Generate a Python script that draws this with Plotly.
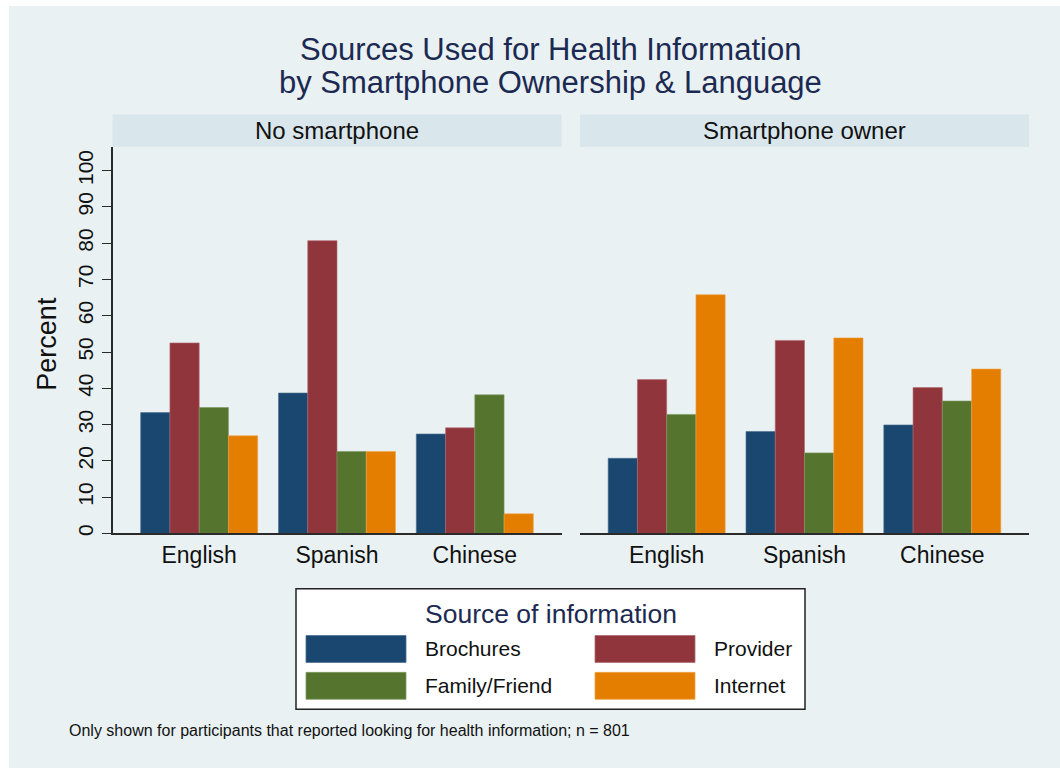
import plotly.graph_objects as go

# ---------------- data ----------------
languages = ["English", "Spanish", "Chinese"]
sources = ["Brochures", "Provider", "Family/Friend", "Internet"]
panels = ["No smartphone", "Smartphone owner"]

no_sp_brochures = [33.3, 38.7, 27.4]
no_sp_provider = [52.5, 80.7, 29.1]
no_sp_family = [34.7, 22.6, 38.2]
no_sp_internet = [26.9, 22.6, 5.4]

sp_brochures = [20.7, 28.1, 29.9]
sp_provider = [42.4, 53.2, 40.2]
sp_family = [32.8, 22.2, 36.5]
sp_internet = [65.8, 53.9, 45.3]

y_ticks = [0, 10, 20, 30, 40, 50, 60, 70, 80, 90, 100]

colors = ["#1a476f", "#90353b", "#55752f", "#e37e00"]
edge_colors = ["#4a6f90", "#b06a6f", "#7f9960", "#f0a54a"]

title_lines = ["Sources Used for Health Information", "by Smartphone Ownership & Language"]
legend_title = "Source of information"
note = "Only shown for participants that reported looking for health information; n = 801"

# ---------------- layout helpers ----------------
W, H = 1060, 771
FONT = "Liberation Sans, Arial, Helvetica, sans-serif"
NAVY = "#1c2a52"
BG = "#e9f1f3"
STRIP = "#d9e6eb"


def px(x):
    return x / W


def py(y):
    return 1 - y / H


fig = go.Figure()

panel_series = [
    [no_sp_brochures, no_sp_provider, no_sp_family, no_sp_internet],
    [sp_brochures, sp_provider, sp_family, sp_internet],
]
axis_ids = [("x", "y"), ("x2", "y2")]

for p, series in enumerate(panel_series):
    xa, ya = axis_ids[p]
    for i, vals in enumerate(series):
        fig.add_trace(go.Bar(
            x=languages, y=vals, name=sources[i],
            marker=dict(color=colors[i], line=dict(color=edge_colors[i], width=0.6)),
            offsetgroup=str(i), xaxis=xa, yaxis=ya, showlegend=False,
        ))

plot_top, plot_bot = 148, 535.5
left_x = (112.5, 561.5)
right_x = (580, 1029)
y_range = [0, 106.4]
cat_range = [-0.629, 2.629]

xaxis_common = dict(
    type="category", range=cat_range, showline=True, linecolor="#2a2a2a", linewidth=1.5,
    ticks="", showgrid=False, zeroline=False,
    tickfont=dict(family=FONT, size=23, color="#111"),
)
fig.update_layout(
    xaxis=dict(domain=[px(left_x[0]), px(left_x[1])], anchor="y", **xaxis_common),
    xaxis2=dict(domain=[px(right_x[0]), px(right_x[1])], anchor="y2", **xaxis_common),
    yaxis=dict(
        domain=[py(plot_bot), py(plot_top)], range=y_range, anchor="x",
        tickvals=y_ticks, ticks="outside", ticklen=9, tickwidth=1.3, tickcolor="#2a2a2a",
        tickangle=-90, tickfont=dict(family=FONT, size=21, color="#111"),
        showline=True, linecolor="#2a2a2a", linewidth=1.5,
        showgrid=True, gridcolor=BG, gridwidth=1.5, zeroline=False,
    ),
    yaxis2=dict(
        domain=[py(plot_bot), py(plot_top)], range=y_range, anchor="x2", matches="y",
        tickvals=y_ticks, showticklabels=False, ticks="", showline=False,
        showgrid=True, gridcolor=BG, gridwidth=1.5, zeroline=False,
    ),
    barmode="group", bargap=0.151, bargroupgap=0,
    width=W, height=H, margin=dict(l=0, r=0, t=0, b=0),
    paper_bgcolor="white", plot_bgcolor="white",
    font=dict(family=FONT),
)

shapes = []
annotations = []

# graph region background (white rim at top/left)
shapes.append(dict(type="rect", xref="paper", yref="paper", x0=px(9), x1=1, y0=0, y1=py(6),
                   fillcolor=BG, line=dict(width=0), layer="below"))

# panel header strips
for (x0, x1), label in zip([left_x, right_x], panels):
    shapes.append(dict(type="rect", xref="paper", yref="paper", x0=px(x0), x1=px(x1),
                       y0=py(147.5), y1=py(115), fillcolor=STRIP, line=dict(width=0)))
    annotations.append(dict(text=label, xref="paper", yref="paper", x=px((x0 + x1) / 2), y=py(131),
                            xanchor="center", yanchor="middle", showarrow=False,
                            font=dict(family=FONT, size=24, color="#111")))

# title
for k, line in enumerate(title_lines):
    annotations.append(dict(text=line, xref="paper", yref="paper", x=px(550), y=py(50 + 33 * k),
                            xanchor="center", yanchor="middle", showarrow=False,
                            font=dict(family=FONT, size=31, color=NAVY)))

# y axis title
annotations.append(dict(text="Percent", xref="paper", yref="paper", x=px(47), y=py(345),
                        xanchor="center", yanchor="middle", textangle=-90, showarrow=False,
                        font=dict(family=FONT, size=27, color="#111")))

# legend box
shapes.append(dict(type="rect", xref="paper", yref="paper", x0=px(296), x1=px(805),
                   y0=py(712), y1=py(591), fillcolor="white", line=dict(color="#222", width=1.5)))
annotations.append(dict(text=legend_title, xref="paper", yref="paper", x=px(551), y=py(616),
                        xanchor="center", yanchor="middle", showarrow=False,
                        font=dict(family=FONT, size=26.5, color=NAVY)))
sw_x = [306, 595]
row_y = [(638, 665), (675, 702)]
for idx in range(len(sources)):
    col = idx % 2
    row = idx // 2
    x0 = sw_x[col]
    y0, y1 = row_y[row]
    shapes.append(dict(type="rect", xref="paper", yref="paper", x0=px(x0), x1=px(x0 + 100),
                       y0=py(y1), y1=py(y0), fillcolor=colors[idx],
                       line=dict(color=edge_colors[idx], width=0.8)))
    annotations.append(dict(text=sources[idx], xref="paper", yref="paper", x=px(x0 + 117),
                            y=py((y0 + y1) / 2), xanchor="left", yanchor="middle", showarrow=False,
                            font=dict(family=FONT, size=21, color="#111")))

# note
annotations.append(dict(text=note, xref="paper", yref="paper", x=px(67), y=py(733),
                        xanchor="left", yanchor="middle", showarrow=False,
                        font=dict(family=FONT, size=16, color="#111")))

fig.update_layout(shapes=shapes, annotations=annotations)

fig.write_html("out.html", config={"displayModeBar": False},
               post_script="document.body.style.margin='0';")
